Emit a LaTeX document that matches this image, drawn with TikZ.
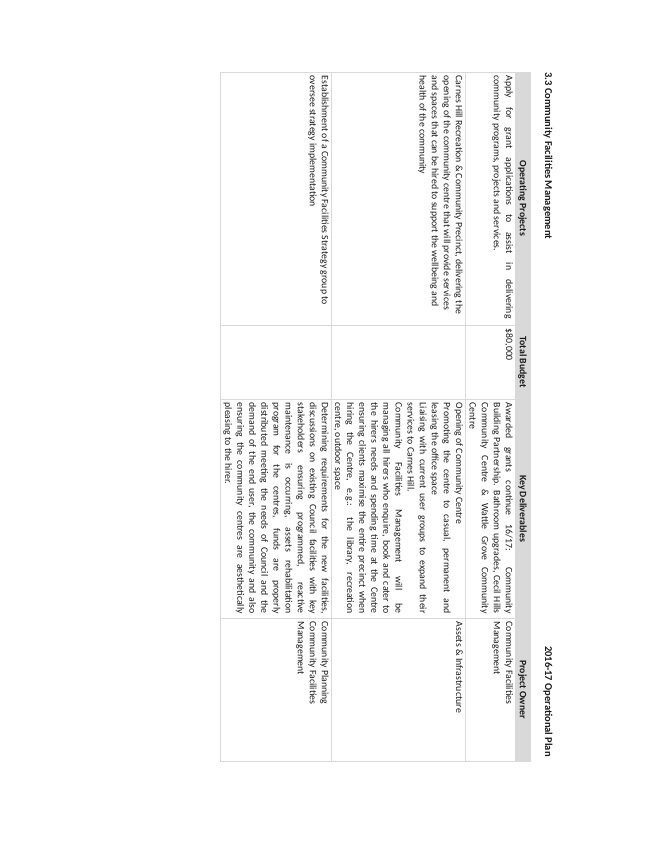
\documentclass[tikz,border=0pt]{standalone}
\usepackage{fontspec}
\setmainfont{Carlito}
\definecolor{rule}{HTML}{D9D9D9}
\definecolor{hdr}{HTML}{D9D9D9}
\definecolor{ink}{HTML}{1A1A1A}
\newcommand\JO[1]{\hbox to 243pt{#1}}
\newcommand\JK[1]{\hbox to 211pt{#1}}
\tikzset{
  celltext/.style={rotate=-90, anchor=north west, inner xsep=3.5pt, inner ysep=2pt,
    align=left, font=\fontsize{9.8}{12.1}\selectfont, text=ink},
  hdrtext/.style={rotate=-90, anchor=center, inner sep=0pt,
    font=\fontsize{9.8}{12.1}\selectfont\bfseries, text=ink},
  titletext/.style={rotate=-90, inner sep=0pt,
    font=\fontsize{10.5}{12.6}\selectfont\bfseries, text=ink},
  grid/.style={draw=rule, line width=1pt}
}
\begin{document}
\begin{tikzpicture}[x=1pt,y=-1pt]
\useasboundingbox (0,0) rectangle (652,844);
% title
\node[titletext, anchor=west] (title) at (548,72) {3.3 Community Facilities Management};
\node[titletext, anchor=east] (plan) at (548,757) {2016-17 Operational Plan};
% header band
\fill[hdr] (515,72) rectangle (530,761);
% grid
\draw[grid] (220,72) rectangle (530,761);
\draw[grid] (331,72) -- (331,761);
\draw[grid] (465,72) -- (465,761);
\draw[grid] (515,72) -- (515,761);
\draw[grid] (220,325) -- (530,325);
\draw[grid] (220,399) -- (530,399);
\draw[grid] (220,618) -- (530,618);
% header texts
\node[hdrtext] (h1) at (522.5,198.5) {Operating Projects};
\node[hdrtext] (h2) at (522.5,362) {Total Budget};
\node[hdrtext] (h3) at (522.5,508.5) {Key Deliverables};
\node[hdrtext] (h4) at (522.5,689.5) {Project Owner};
% row 1
\node[celltext] (r1a) at (515,72) {\JO{Apply for grant applications to assist in delivering}\\ community programs, projects and services.};
\node[celltext] (r1b) at (515,325) {\$80,000};
\node[celltext] (r1c) at (515,399) {\JK{Awarded grants continue 16/17: Community}\\ \JK{Building Partnership. Bathroom upgrades, Cecil Hills}\\ \JK{Community Centre \& Wattle Grove Community}\\ Centre};
\node[celltext] (r1d) at (515,618) {Community Facilities\\ Management};
% row 2
\node[celltext] (r2a) at (465,72) {Carnes Hill Recreation \& Community Precinct, delivering the\\ opening of the community centre that will provide services\\ and spaces that can be hired to support the wellbeing and\\ health of the community};
\node[celltext] (r2c) at (465,399) {Opening of Community Centre\\ \JK{Promoting the centre to casual, permanent and}\\ leasing the office space\\ \JK{Liaising with current user groups to expand their}\\ services to Carnes Hill.\\ \JK{Community Facilities Management will be}\\ \JK{managing all hirers who enquire, book and cater to}\\ \JK{the hirers needs and spending time at the Centre}\\ \JK{ensuring clients maximise the entire precinct when}\\ \JK{hiring the Centre, e.g.: the library, recreation}\\ centre, outdoor space};
\node[celltext] (r2d) at (465,618) {Assets \& Infrastructure};
% row 3
\node[celltext] (r3a) at (331,72) {Establishment of a Community Facilities Strategy group to\\ oversee strategy implementation};
\node[celltext] (r3c) at (331,399) {\JK{Determining requirements for the new facilities,}\\ \JK{discussions on existing Council facilities with key}\\ \JK{stakeholders ensuring programmed, reactive}\\ \JK{maintenance is occurring, assets rehabilitation}\\ \JK{program for the centres, funds are properly}\\ \JK{distributed meeting the needs of Council and the}\\ \JK{demand of the end user, the community and also}\\ \JK{ensuring the community centres are aesthetically}\\ pleasing to the hirer.};
\node[celltext] (r3d) at (331,618) {Community Planning\\ Community Facilities\\ Management};
\end{tikzpicture}
\end{document}
